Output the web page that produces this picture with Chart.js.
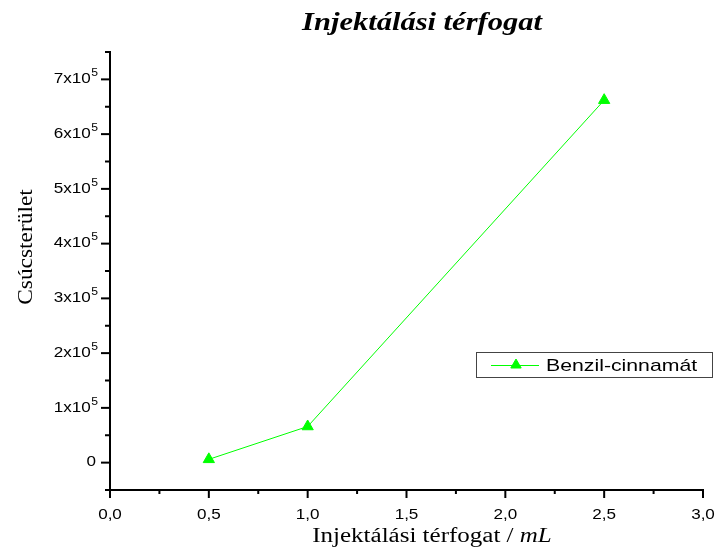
<!DOCTYPE html>
<html>
<head>
<meta charset="utf-8">
<script src="https://cdn.jsdelivr.net/npm/chart.js@4.4.0/dist/chart.umd.min.js"></script>
<style>
  html, body { margin: 0; padding: 0; background: #fff; }
  canvas { display: block; }
</style>
</head>
<body>
<canvas id="chart" width="716" height="552"></canvas>
<script>
// injected volume (mL) vs. peak area
const volumes = [0.5, 1.0, 2.5];
const peakAreas = [6000, 66000, 662000];
const seriesName = 'Benzil-cinnamát';

const xTickValues = [0, 0.5, 1.0, 1.5, 2.0, 2.5, 3.0];
const xTickLabels = ['0,0', '0,5', '1,0', '1,5', '2,0', '2,5', '3,0'];
const yTickValues = [0, 100000, 200000, 300000, 400000, 500000, 600000, 700000];
const yTickMantissas = ['0', '1x10', '2x10', '3x10', '4x10', '5x10', '6x10', '7x10'];
const yTickExponent = '5';

const GREEN = '#00ff00';
const SANS = '"Liberation Sans", Arial, sans-serif';
const SERIF = '"Liberation Serif", "Times New Roman", serif';
const WIDE = 1.22; // the fonts here are drawn a bit wider than normal

// draws text widened horizontally around its anchor
function wideText(ctx, text, x, y, align, sx = WIDE) {
  ctx.save();
  ctx.translate(x, y);
  ctx.scale(sx, 1);
  ctx.textAlign = align;
  ctx.fillText(text, 0, 0);
  ctx.restore();
}

const decor = {
  id: 'decor',
  afterDraw(chart) {
    const { ctx, chartArea: a, scales: { x, y } } = chart;
    ctx.save();
    ctx.strokeStyle = '#000';
    ctx.fillStyle = '#000';
    ctx.lineWidth = 2;

    // x ticks: major every 0.5, minor in between
    for (let i = 0; i <= 12; i++) {
      const px = x.getPixelForValue(i * 0.25);
      ctx.beginPath();
      ctx.moveTo(px, a.bottom);
      ctx.lineTo(px, a.bottom + (i % 2 === 0 ? 8 : 4));
      ctx.stroke();
    }
    // y ticks: major every 1e5, minor at the halves
    for (let i = -1; i <= 15; i++) {
      const py = y.getPixelForValue(i * 50000);
      ctx.beginPath();
      ctx.moveTo(a.left, py);
      ctx.lineTo(a.left - (i % 2 === 0 ? 9 : 5), py);
      ctx.stroke();
    }

    // x tick labels
    ctx.font = '14px ' + SANS;
    ctx.textBaseline = 'middle';
    xTickValues.forEach((v, i) => {
      wideText(ctx, xTickLabels[i], x.getPixelForValue(v), a.bottom + 25, 'center');
    });

    // y tick labels with superscript exponent
    const right = a.left - 12;
    yTickValues.forEach((v, i) => {
      const py = y.getPixelForValue(v);
      ctx.textBaseline = 'middle';
      if (v === 0) {
        ctx.font = '14px ' + SANS;
        wideText(ctx, yTickMantissas[i], right - 2, py, 'right');
        return;
      }
      ctx.font = '10px ' + SANS;
      const ew = ctx.measureText(yTickExponent).width * WIDE;
      wideText(ctx, yTickExponent, right, py - 6, 'right');
      ctx.font = '14px ' + SANS;
      wideText(ctx, yTickMantissas[i], right - ew - 0.5, py, 'right');
    });

    // title
    ctx.font = 'italic bold 25px ' + SERIF;
    ctx.textBaseline = 'alphabetic';
    wideText(ctx, 'Injektálási térfogat', 422, 30, 'center');

    // x axis title, unit in italics
    const xs = 1.25;
    const part1 = 'Injektálási térfogat / ';
    const part2 = 'mL';
    ctx.font = '20px ' + SERIF;
    const w1 = ctx.measureText(part1).width * xs;
    ctx.font = 'italic 20px ' + SERIF;
    const w2 = ctx.measureText(part2).width * xs;
    const sx = 432 - (w1 + w2) / 2;
    ctx.font = '20px ' + SERIF;
    wideText(ctx, part1, sx, 542, 'left', xs);
    ctx.font = 'italic 20px ' + SERIF;
    wideText(ctx, part2, sx + w1, 542, 'left', xs);

    // y axis title
    ctx.save();
    ctx.translate(32, 247);
    ctx.rotate(-Math.PI / 2);
    ctx.font = '20px ' + SERIF;
    wideText(ctx, 'Csúcsterület', 0, 0, 'center', 1.17);
    ctx.restore();

    // legend
    ctx.lineWidth = 1;
    ctx.strokeStyle = '#444';
    ctx.strokeRect(476.5, 352.5, 236, 25);
    ctx.strokeStyle = GREEN;
    ctx.beginPath();
    ctx.moveTo(491, 365.5);
    ctx.lineTo(539, 365.5);
    ctx.stroke();
    ctx.fillStyle = GREEN;
    Chart.helpers.drawPoint(ctx, { pointStyle: 'triangle', radius: 6, rotation: 0, borderWidth: 1 }, 516, 365);
    ctx.fillStyle = '#000';
    ctx.font = '17px ' + SANS;
    ctx.textBaseline = 'middle';
    wideText(ctx, seriesName, 546, 366, 'left', 1.25);

    ctx.restore();
  }
};

new Chart(document.getElementById('chart'), {
  type: 'line',
  data: {
    datasets: [{
      label: seriesName,
      data: volumes.map((v, i) => ({ x: v, y: peakAreas[i] })),
      borderColor: GREEN,
      backgroundColor: GREEN,
      borderWidth: 1,
      pointStyle: 'triangle',
      pointRadius: 6.5,
      pointBorderWidth: 1,
      pointBorderColor: GREEN,
      pointBackgroundColor: GREEN,
      tension: 0,
      clip: false
    }]
  },
  options: {
    responsive: false,
    animation: false,
    layout: { padding: { left: 110, top: 52, right: 13, bottom: 62 } },
    plugins: {
      legend: { display: false },
      tooltip: { enabled: false }
    },
    scales: {
      x: {
        type: 'linear',
        min: 0,
        max: 3,
        grid: { display: false, drawTicks: false },
        ticks: { display: false },
        border: { display: true, color: '#000', width: 2 }
      },
      y: {
        type: 'linear',
        min: -50000,
        max: 750000,
        grid: { display: false, drawTicks: false },
        ticks: { display: false },
        border: { display: true, color: '#000', width: 2 }
      }
    }
  },
  plugins: [decor]
});
</script>
</body>
</html>
